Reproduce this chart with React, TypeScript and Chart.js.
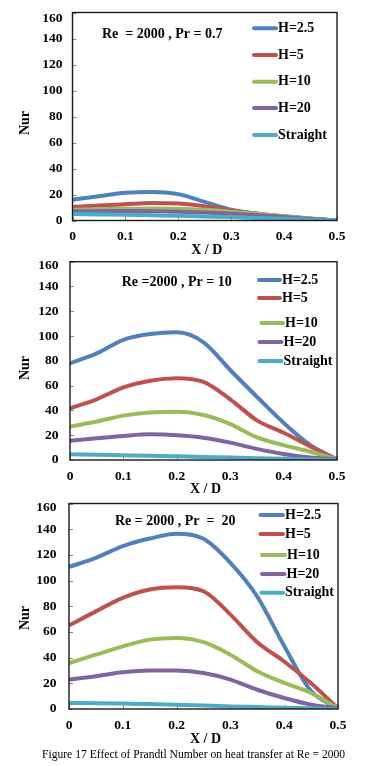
import { useEffect, useRef } from 'react';
import { Chart, registerables } from 'chart.js';

Chart.register(...registerables);

const xPositions = [0, 0.05, 0.1, 0.15, 0.2, 0.25, 0.3, 0.35, 0.4, 0.45, 0.5];
const seriesNames = ['H=2.5', 'H=5', 'H=10', 'H=20', 'Straight'];
const seriesColors = ['#4F81BD', '#C0504D', '#9BBB59', '#8064A2', '#4BACC6'];
const xTickValues = [0, 0.1, 0.2, 0.3, 0.4, 0.5];
const xTickLabels = ['0', '0.1', '0.2', '0.3', '0.4', '0.5'];
const yTickValues = [0, 20, 40, 60, 80, 100, 120, 140, 160];
const yTickLabels = ['0', '20', '40', '60', '80', '100', '120', '140', '160'];

// Pr = 0.7
const pr07H25 = [16, 18.7, 21.3, 22, 20.3, 14.3, 8.3, 5.2, 3, 1.3, 0];
const pr07H5 = [10.4, 11.5, 12.5, 13.5, 13, 11, 7.8, 5.2, 3, 1.3, 0];
const pr07H10 = [8.3, 8.7, 9.1, 9.3, 9.1, 8.2, 6.8, 5, 3.4, 1.6, 0];
const pr07H20 = [7, 7.2, 7.3, 7.2, 6.8, 6.2, 5.2, 4, 2.6, 1.2, 0];
const pr07Straight = [5, 4.7, 4.4, 4, 3.6, 3.1, 2.6, 2, 1.3, 0.6, 0];

// Pr = 10
const pr10H25 = [78, 86, 97, 101.6, 103, 95, 72.6, 51, 30, 12, 0.5];
const pr10H5 = [41.7, 49, 58.6, 64, 66, 63, 49, 32, 22, 11, 0.5];
const pr10H10 = [27, 31, 35.8, 38.4, 39, 36.3, 29, 18.3, 12, 6.7, 0.5];
const pr10H20 = [15.6, 17.5, 19.4, 20.7, 20, 18, 14, 9, 4.8, 2, 0.5];
const pr10Straight = [4.6, 4.2, 3.8, 3.4, 3, 2.5, 2, 1.5, 1, 0.5, 0];

// Pr = 20
const pr20H25 = [110.6, 117.7, 126.8, 132.7, 136.4, 132.5, 113.8, 87.5, 49, 14, 0.5];
const pr20H5 = [65, 76, 86.5, 93, 94.8, 91.7, 73.5, 52, 37, 20, 0.5];
const pr20H10 = [35.8, 42.3, 48.8, 54, 55.3, 52, 42.3, 29.4, 20.3, 12.5, 0.5];
const pr20H20 = [22.9, 25.5, 28.6, 30, 29.9, 28, 22.9, 15, 8.6, 3.4, 0.5];
const pr20Straight = [4.7, 4.5, 4.2, 3.8, 3.4, 2.7, 2, 1.5, 1, 0.5, 0];

const noteTexts = ['Re  = 2000 , Pr = 0.7', 'Re =2000 , Pr = 10', 'Re = 2000 , Pr  =  20'];
const captionText = 'Figure 17 Effect of Prandtl Number on heat transfer at Re = 2000';

type LegendRow = { y: number; x0: number; x1: number };
type Panel = {
  top: number;
  height: number;
  area: { left: number; right: number; top: number; bottom: number };
  note: string;
  noteX: number;
  noteY: number;
  series: number[][];
  legend: LegendRow[];
  yLabelRight: number;
  topLabelShift: number;
  xLabelY: number;
  xTitleY: number;
  nurX: number;
  nurY: number;
};

const panels: Panel[] = [
  {
    top: 0,
    height: 262,
    area: { left: 72.5, right: 337, top: 12.5, bottom: 220.5 },
    note: noteTexts[0],
    noteX: 102,
    noteY: 34,
    series: [pr07H25, pr07H5, pr07H10, pr07H20, pr07Straight],
    legend: [
      { y: 28.3, x0: 252, x1: 278 },
      { y: 55, x0: 252, x1: 278 },
      { y: 81.7, x0: 252, x1: 278 },
      { y: 108, x0: 252, x1: 278 },
      { y: 135, x0: 252, x1: 278 },
    ],
    yLabelRight: 62.5,
    topLabelShift: 6.5,
    xLabelY: 236.5,
    xTitleY: 250,
    nurX: 25,
    nurY: 123,
  },
  {
    top: 255,
    height: 250,
    area: { left: 70, right: 337, top: 261.7, bottom: 460 },
    note: noteTexts[1],
    noteX: 121.7,
    noteY: 282,
    series: [pr10H25, pr10H5, pr10H10, pr10H20, pr10Straight],
    legend: [
      { y: 280, x0: 257, x1: 282 },
      { y: 298, x0: 257, x1: 282 },
      { y: 323, x0: 259.5, x1: 285 },
      { y: 342, x0: 257.5, x1: 283.5 },
      { y: 361, x0: 257.5, x1: 283.5 },
    ],
    yLabelRight: 58.5,
    topLabelShift: 3.5,
    xLabelY: 476.7,
    xTitleY: 489,
    nurX: 25,
    nurY: 368,
  },
  {
    top: 497,
    height: 250,
    area: { left: 69, right: 338, top: 503.5, bottom: 709 },
    note: noteTexts[2],
    noteX: 115,
    noteY: 521.7,
    series: [pr20H25, pr20H5, pr20H10, pr20H20, pr20Straight],
    legend: [
      { y: 515, x0: 258.5, x1: 285 },
      { y: 534, x0: 258.5, x1: 285 },
      { y: 555, x0: 260, x1: 287 },
      { y: 574, x0: 260, x1: 286.5 },
      { y: 592.7, x0: 259.5, x1: 285 },
    ],
    yLabelRight: 56.5,
    topLabelShift: 4,
    xLabelY: 726,
    xTitleY: 739,
    nurX: 25,
    nurY: 618,
  },
];

const SERIF = '"Liberation Serif", "Times New Roman", serif';
const BOLD14 = `bold 14px ${SERIF}`;
const BOLD_TICK = `bold 13.5px ${SERIF}`;

function PanelChart({ panel }: { panel: Panel }) {
  const ref = useRef<HTMLCanvasElement | null>(null);
  useEffect(() => {
    const canvas = ref.current;
    if (!canvas) return;
    const T = panel.top;
    const decor = {
      id: 'decor' + T,
      beforeDatasetsDraw(chart: any) {
        const ctx = chart.ctx as CanvasRenderingContext2D;
        const a = chart.chartArea;
        ctx.save();
        ctx.fillStyle = '#ffffff';
        ctx.fillRect(a.left, a.top, a.right - a.left, a.bottom - a.top);
        ctx.restore();
      },
      afterDatasetsDraw(chart: any) {
        const ctx = chart.ctx as CanvasRenderingContext2D;
        const a = chart.chartArea;
        const xs = chart.scales.x;
        const ys = chart.scales.y;
        ctx.save();
        // inner tick marks
        ctx.strokeStyle = '#8a8a8a';
        ctx.lineWidth = 1;
        yTickValues.forEach((v) => {
          const py = Math.round(ys.getPixelForValue(v)) + 0.5;
          ctx.beginPath();
          ctx.moveTo(a.left, py);
          ctx.lineTo(a.left + 4, py);
          ctx.stroke();
        });
        xTickValues.forEach((v) => {
          const px = Math.round(xs.getPixelForValue(v)) + 0.5;
          ctx.beginPath();
          ctx.moveTo(px, a.bottom);
          ctx.lineTo(px, a.bottom - 4);
          ctx.stroke();
        });
        // frame
        ctx.strokeStyle = '#1a1a1a';
        ctx.lineWidth = 1.4;
        ctx.strokeRect(a.left, a.top, a.right - a.left, a.bottom - a.top);
        // tick labels
        ctx.fillStyle = '#000';
        ctx.font = BOLD_TICK;
        ctx.textAlign = 'right';
        ctx.textBaseline = 'middle';
        yTickValues.forEach((v, i) => {
          let py = ys.getPixelForValue(v);
          if (i === yTickValues.length - 1) py += panel.topLabelShift;
          ctx.fillText(yTickLabels[i], panel.yLabelRight, py);
        });
        ctx.textAlign = 'center';
        xTickValues.forEach((v, i) => {
          const px = xs.getPixelForValue(v);
          ctx.fillText(xTickLabels[i], px, panel.xLabelY - T);
        });
        // axis titles
        ctx.font = BOLD14;
        ctx.fillText('X / D', (a.left + a.right) / 2 + 2, panel.xTitleY - T);
        ctx.save();
        ctx.translate(panel.nurX, panel.nurY - T);
        ctx.rotate(-Math.PI / 2);
        ctx.fillText('Nur', 0, 0);
        ctx.restore();
        // note
        ctx.textAlign = 'left';
        ctx.fillText(panel.note, panel.noteX, panel.noteY - T);
        // legend
        panel.legend.forEach((row, i) => {
          ctx.strokeStyle = seriesColors[i];
          ctx.lineWidth = 4;
          ctx.lineCap = 'round';
          ctx.beginPath();
          ctx.moveTo(row.x0 + 2, row.y - T);
          ctx.lineTo(row.x1 - 2, row.y - T);
          ctx.stroke();
          ctx.fillStyle = '#000';
          ctx.fillText(seriesNames[i], row.x1, row.y - T);
        });
        ctx.restore();
      },
    };

    const chart = new Chart(canvas, {
      type: 'line',
      data: {
        datasets: panel.series.map((vals, i) => ({
          label: seriesNames[i],
          data: xPositions.map((x, j) => ({ x, y: vals[j] })),
          borderColor: seriesColors[i],
          backgroundColor: seriesColors[i],
          borderWidth: 4,
          pointRadius: 0,
          cubicInterpolationMode: 'monotone' as const,
          borderCapStyle: 'round' as const,
          borderJoinStyle: 'round' as const,
          fill: false,
          order: seriesNames.length - 1 - i,
        })),
      },
      options: {
        responsive: false,
        animation: false,
        events: [],
        layout: {
          padding: {
            left: panel.area.left,
            right: 380 - panel.area.right,
            top: panel.area.top - T,
            bottom: T + panel.height - panel.area.bottom,
          },
        },
        plugins: {
          legend: { display: false },
          tooltip: { enabled: false },
          title: { display: false },
        },
        scales: {
          x: {
            type: 'linear',
            min: 0,
            max: 0.5,
            ticks: { display: false, stepSize: 0.1 },
            grid: { display: false },
            border: { display: false },
            afterFit: (s: any) => {
              s.height = 0;
            },
          },
          y: {
            type: 'linear',
            min: 0,
            max: 160,
            ticks: { display: false, stepSize: 20 },
            grid: { display: false },
            border: { display: false },
            afterFit: (s: any) => {
              s.width = 0;
            },
          },
        },
      },
      plugins: [decor],
    } as any);
    return () => chart.destroy();
  }, [panel]);

  return (
    <canvas
      ref={ref}
      width={380}
      height={panel.height}
      style={{ position: 'absolute', left: 0, top: panel.top, width: 380, height: panel.height }}
    />
  );
}

export default function App() {
  return (
    <div
      style={{
        position: 'absolute',
        left: 0,
        top: 0,
        width: 380,
        height: 767,
        background: '#ffffff',
        overflow: 'hidden',
      }}
    >
      {panels.map((p) => (
        <PanelChart key={p.top} panel={p} />
      ))}
      <div
        style={{
          position: 'absolute',
          left: 42,
          top: 747,
          fontFamily: SERIF,
          fontSize: 11.6,
          lineHeight: '15px',
          whiteSpace: 'nowrap',
          color: '#000',
        }}
      >
        {captionText}
      </div>
    </div>
  );
}
